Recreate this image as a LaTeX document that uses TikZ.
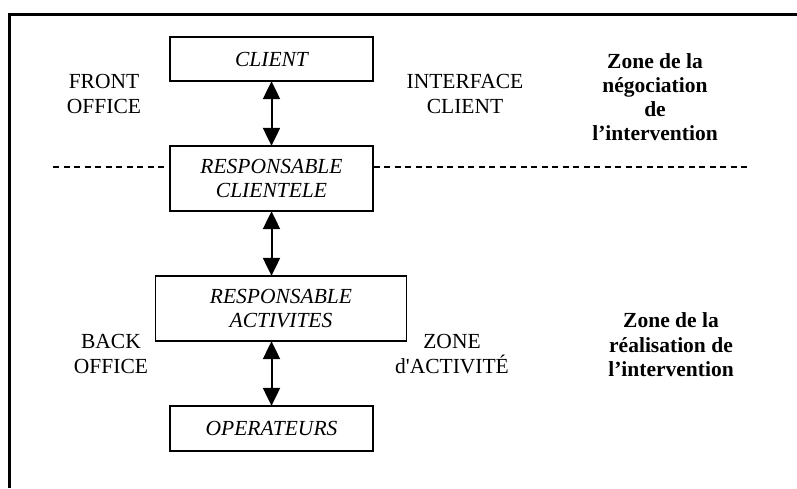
\documentclass[tikz,border=0pt]{standalone}
\usepackage{fontspec}
\setmainfont{Liberation Serif}
\usetikzlibrary{arrows.meta}
\tikzset{every node/.style={font=\fontsize{21.5}{24.5}\selectfont, inner sep=0pt, align=center}}
\tikzset{box/.style={draw, line width=1.3pt, font=\fontsize{21.5}{24.5}\selectfont\itshape},
         link/.style={line width=2pt, {Triangle[length=18pt,width=17pt]}-{Triangle[length=18pt,width=17pt]}, shorten <=-0.5pt, shorten >=-0.5pt},
         sep/.style={line width=1.5pt, dash pattern=on 6pt off 4.5pt}}

\begin{document}
\begin{tikzpicture}[x=1pt,y=-1pt]
   \useasboundingbox (0,0) rectangle (797,488);
   \draw[line width=3.5pt] (9.5,488) -- (9.5,14.5) -- (797,14.5);
    \node[box, minimum width=203pt, minimum height=44pt] (client)  at (271.5, 59.0) {CLIENT};
    \node[box, minimum width=203pt, minimum height=65pt] (respcli) at (271.5,178.5) {RESPONSABLE\\CLIENTELE};
    \node[box, minimum width=251pt, minimum height=65pt] (respact) at (281.0,308.5) {RESPONSABLE\\ACTIVITES};
    \node[box, minimum width=203pt, minimum height=45pt] (oper)    at (271.5,428.5) {OPERATEURS};
    \draw[link] (client) -- (respcli);
    \draw[link] (respcli) -- (respcli |- respact.north);
    \draw[link] (oper |- respact.south) -- (oper);
    \coordinate (dl) at ( 53,167);
    \coordinate (dr) at (750,167);
    \draw[sep] (dl) -- (dl -| respcli.west);
    \draw[sep] (dl -| respcli.east) -- (dr);
    \node (front) at (104, 94) {FRONT\\OFFICE};
    \node (iface) at (465, 94) {INTERFACE\\CLIENT};
    \node[font=\fontsize{21.5}{24}\selectfont\bfseries] (zneg) at (655, 97) {Zone de la\\négociation\\de\\l’intervention};
    \node (back)  at (111,354) {BACK\\OFFICE};
    \node (zact)  at (452,354) {ZONE\\d\textquotesingle ACTIVITÉ};
    \node[font=\fontsize{21.5}{24.5}\selectfont\bfseries] (zrea) at (671,345) {Zone de la\\réalisation de\\l’intervention};
  \end{tikzpicture}
\end{document}
